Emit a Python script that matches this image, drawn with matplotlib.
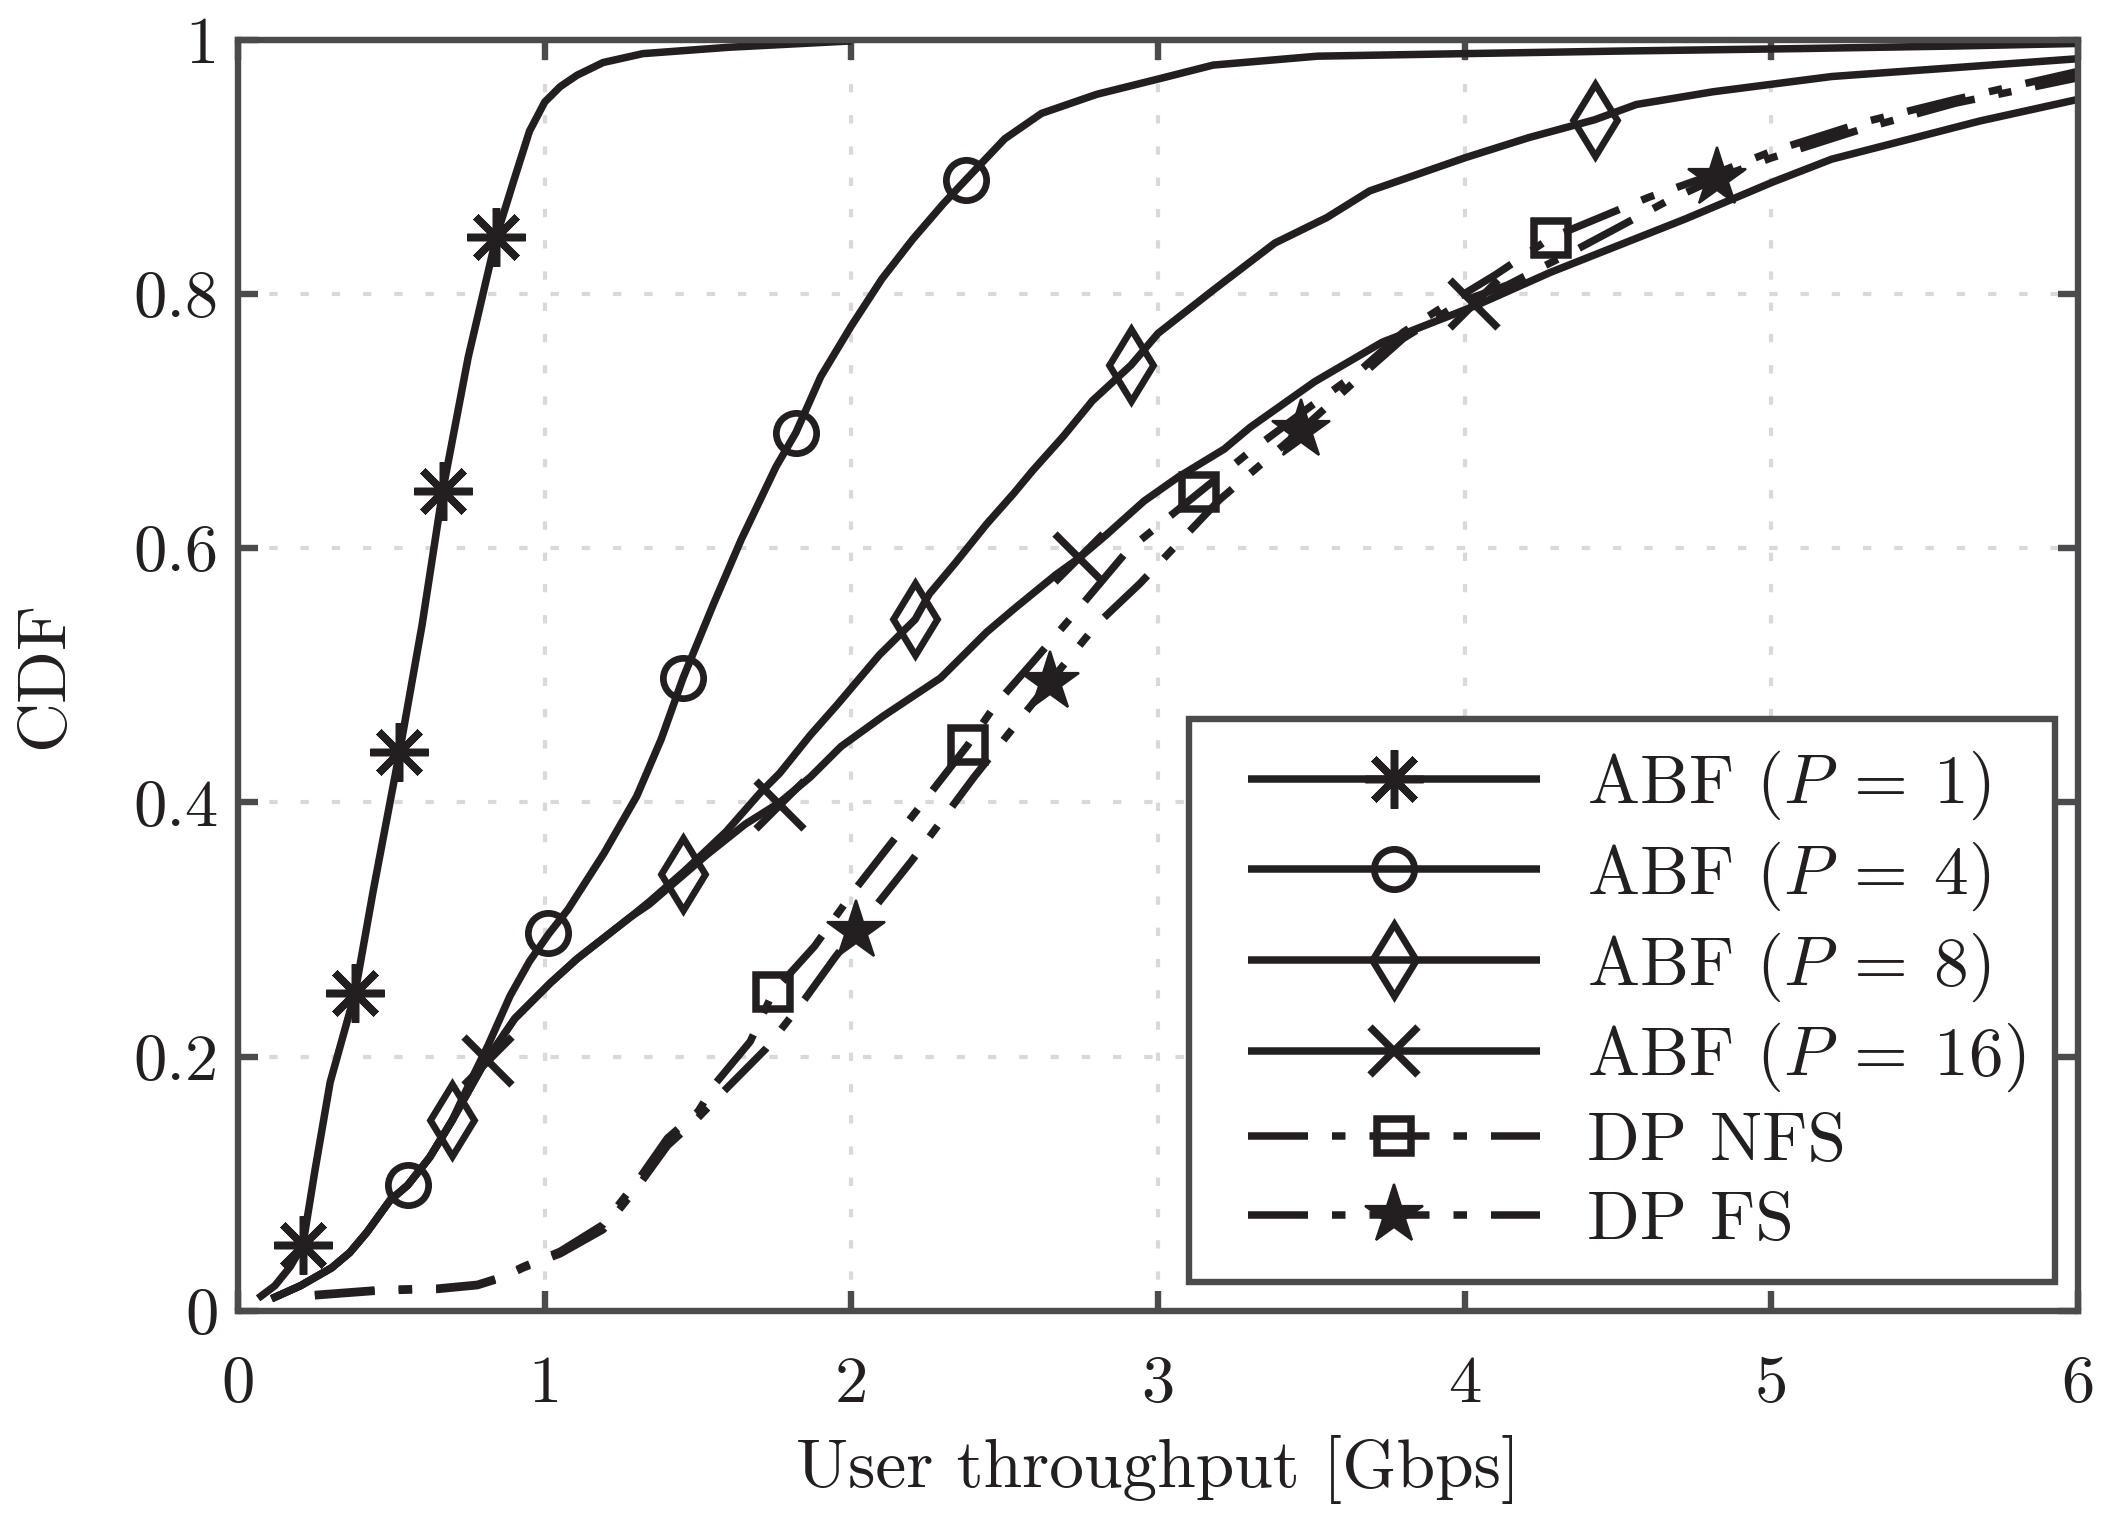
import numpy as np
import matplotlib
matplotlib.use("Agg")
import matplotlib.pyplot as plt
from matplotlib.legend_handler import HandlerTuple

plt.rcParams['font.family'] = ['cmr10', 'DejaVu Serif']
plt.rcParams['mathtext.fontset'] = 'cm'
plt.rcParams['axes.formatter.use_mathtext'] = True
plt.rcParams['axes.unicode_minus'] = False

# ---------------- data ----------------
p1_x = [0.065, 0.12, 0.17, 0.211, 0.25, 0.30, 0.381, 0.44, 0.525, 0.60, 0.667, 0.75, 0.842,
        0.90, 0.95, 1.0, 1.05, 1.105, 1.19, 1.32, 1.6, 2.0]
p1_y = [0.010, 0.020, 0.035, 0.052, 0.11, 0.18, 0.25, 0.33, 0.438, 0.54, 0.645, 0.75, 0.845,
        0.89, 0.928, 0.951, 0.963, 0.972, 0.982, 0.989, 0.994, 0.999]
p1_mx = [0.211, 0.381, 0.525, 0.667, 0.842]
p1_my = [0.052, 0.250, 0.440, 0.645, 0.845]

p4_x = [0.109, 0.204, 0.305, 0.364, 0.42, 0.495, 0.553, 0.625, 0.698, 0.756, 0.815, 0.887,
        0.95, 1.014, 1.076, 1.193, 1.30, 1.38, 1.451, 1.55, 1.641, 1.754, 1.819, 1.90, 2.0,
        2.1, 2.2, 2.3, 2.374, 2.5, 2.62, 2.8, 3.0, 3.18, 3.52, 4.0, 4.5, 5.1, 5.6, 6.0]
p4_y = [0.0097, 0.020, 0.034, 0.046, 0.062, 0.087, 0.099, 0.121, 0.150, 0.180, 0.209, 0.248,
        0.275, 0.297, 0.316, 0.360, 0.405, 0.450, 0.498, 0.556, 0.607, 0.664, 0.691, 0.735, 0.775,
        0.812, 0.843, 0.871, 0.890, 0.922, 0.942, 0.957, 0.969, 0.980, 0.987, 0.989, 0.991, 0.993,
        0.995, 0.997]
p4_mx = [0.553, 1.010, 1.451, 1.819, 2.374]
p4_my = [0.099, 0.297, 0.498, 0.691, 0.890]

p8_x = [0.109, 0.204, 0.305, 0.364, 0.42, 0.495, 0.553, 0.625, 0.698, 0.80, 0.902, 1.018,
        1.105, 1.28, 1.341, 1.455, 1.591, 1.704, 1.766, 1.866, 1.954, 2.091, 2.208, 2.254, 2.341,
        2.441, 2.529, 2.591, 2.691, 2.786, 2.912, 3.0, 3.18, 3.381, 3.55, 3.69, 4.0, 4.21, 4.424,
        4.56, 4.81, 5.197, 5.6, 6.0]
p8_y = [0.0097, 0.020, 0.034, 0.046, 0.062, 0.087, 0.099, 0.121, 0.150, 0.194, 0.230, 0.258,
        0.277, 0.310, 0.322, 0.346, 0.377, 0.408, 0.423, 0.453, 0.477, 0.516, 0.544, 0.564, 0.589,
        0.619, 0.643, 0.661, 0.688, 0.716, 0.744, 0.769, 0.803, 0.840, 0.860, 0.881, 0.907, 0.923,
        0.937, 0.949, 0.959, 0.971, 0.978, 0.985]
p8_mx = [0.698, 1.451, 2.208, 2.912, 4.424]
p8_my = [0.150, 0.344, 0.544, 0.744, 0.937]

p16_x = [0.109, 0.204, 0.305, 0.364, 0.42, 0.495, 0.553, 0.625, 0.698, 0.80, 0.902, 1.018,
         1.105, 1.28, 1.341, 1.529, 1.654, 1.766, 1.866, 1.966, 2.104, 2.291, 2.441, 2.529, 2.666,
         2.741, 2.829, 2.954, 3.066, 3.216, 3.30, 3.511, 3.731, 4.038, 4.28, 4.5, 4.72, 5.005,
         5.197, 5.68, 6.0]
p16_y = [0.0097, 0.020, 0.034, 0.046, 0.062, 0.087, 0.099, 0.121, 0.150, 0.194, 0.230, 0.258,
         0.277, 0.310, 0.320, 0.359, 0.383, 0.400, 0.420, 0.444, 0.468, 0.498, 0.534, 0.552, 0.579,
         0.592, 0.610, 0.637, 0.656, 0.678, 0.695, 0.731, 0.762, 0.791, 0.817, 0.838, 0.859, 0.888,
         0.906, 0.936, 0.953]
p16_mx = [0.815, 1.766, 2.741, 4.030]
p16_my = [0.197, 0.398, 0.592, 0.792]

nfs_x = [0.25, 0.47, 0.65, 0.78, 0.86, 0.93, 1.05, 1.19, 1.31, 1.40, 1.50, 1.56, 1.67, 1.745,
         1.88, 2.01, 2.11, 2.25, 2.379, 2.47, 2.59, 2.75, 2.90, 3.135, 3.3, 3.5, 3.65, 3.8, 3.95,
         4.1, 4.28, 4.45, 4.6, 4.8, 5.0, 5.3, 5.6, 6.0]
nfs_y = [0.013, 0.017, 0.018, 0.021, 0.027, 0.035, 0.047, 0.068, 0.105, 0.136, 0.157, 0.180,
         0.212, 0.251, 0.287, 0.331, 0.362, 0.405, 0.445, 0.477, 0.510, 0.555, 0.598, 0.644, 0.676,
         0.712, 0.738, 0.770, 0.793, 0.815, 0.844, 0.861, 0.876, 0.893, 0.912, 0.935, 0.953, 0.975]
nfs_mx = [1.745, 2.379, 3.135, 4.280]
nfs_my = [0.251, 0.445, 0.644, 0.844]

fs_x = [0.25, 0.47, 0.65, 0.78, 0.86, 0.93, 1.05, 1.19, 1.31, 1.40, 1.50, 1.58, 1.72, 1.847,
        1.949, 2.015, 2.196, 2.40, 2.6475, 2.80, 2.94, 3.2, 3.467, 3.65, 3.8, 4.0, 4.14, 4.26,
        4.35, 4.49, 4.66, 4.824, 5.0, 5.3, 5.6, 6.0]
fs_y = [0.012, 0.016, 0.017, 0.020, 0.026, 0.034, 0.045, 0.064, 0.100, 0.130, 0.152, 0.172,
        0.206, 0.245, 0.279, 0.299, 0.354, 0.420, 0.495, 0.540, 0.572, 0.638, 0.693, 0.733, 0.765,
        0.795, 0.807, 0.822, 0.833, 0.851, 0.873, 0.891, 0.907, 0.930, 0.950, 0.970]
fs_mx = [2.015, 2.6475, 3.467, 4.824]
fs_my = [0.299, 0.495, 0.693, 0.891]

labels = [r'ABF $(P\:=\:1)\,$', r'ABF $(P\:=\:4)\,$', r'ABF $(P\:=\:8)\,$',
          r'ABF $(P\:=\:16)\,$', 'DP NFS', 'DP FS']
x_ticks = [0, 1, 2, 3, 4, 5, 6]
y_ticks = [0, 0.2, 0.4, 0.6, 0.8, 1]
y_tick_labels = ['0', '0.2', '0.4', '0.6', '0.8', '1']

# ---------------- style ----------------
INK = '#231f20'
SPINE = '#4b4b4d'
LW = 2.7
dashdot = (0, (8, 3.2, 1.8, 3.2))


class ShiftedTuple(HandlerTuple):
    """Tuple handler whose handle starts a little to the right."""
    def __init__(self, shift_em=0.4, **kw):
        super().__init__(**kw)
        self.shift_em = shift_em

    def create_artists(self, legend, orig_handle, xdescent, ydescent, width, height,
                       fontsize, trans):
        s = self.shift_em * fontsize
        return super().create_artists(legend, orig_handle, xdescent - s, ydescent,
                                      width - s, height, fontsize, trans)


fig = plt.figure(figsize=(10.52, 7.595), dpi=200)
ax = fig.add_axes([0.1132, 0.1369, 0.9876 - 0.1132, 0.9739 - 0.1369])

series = [
    (p1_x, p1_y, p1_mx, p1_my, '-', dict(marker=(8, 2, 0), markersize=21, mew=LW,
                                         mec=INK, mfc='none')),
    (p4_x, p4_y, p4_mx, p4_my, '-', dict(marker='o', markersize=14.5, mew=LW * 0.9,
                                         mec=INK, mfc='none')),
    (p8_x, p8_y, p8_mx, p8_my, '-', dict(marker='d', markersize=18.5, mew=LW * 0.9,
                                         mec=INK, mfc='none')),
    (p16_x, p16_y, p16_mx, p16_my, '-', dict(marker='x', markersize=17, mew=LW,
                                             mec=INK, mfc='none')),
    (nfs_x, nfs_y, nfs_mx, nfs_my, dashdot, dict(marker='s', markersize=12, mew=LW,
                                                 mec=INK, mfc='none')),
    (fs_x, fs_y, fs_mx, fs_my, dashdot, dict(marker='*', markersize=22, mew=0.8,
                                             mec=INK, mfc=INK)),
]

handles = []
for (xs, ys, mxs, mys, ls, mk) in series:
    ln, = ax.plot(xs, ys, linestyle=ls, color=INK, lw=LW, solid_capstyle='butt',
                  dash_capstyle='butt', zorder=3)
    mk_ln, = ax.plot(mxs, mys, linestyle='none', zorder=4, **mk)
    handles.append((ln, mk_ln))

ax.set_xlim(0, 6)
ax.set_ylim(0, 1)
ax.set_xticks(x_ticks)
ax.set_xticklabels([str(t) for t in x_ticks])
ax.set_yticks(y_ticks)
ax.set_yticklabels(y_tick_labels)

ax.grid(True, color='#d9d9d9', linestyle=(0, (2, 5.5)), linewidth=1.5, dash_capstyle='butt')
ax.set_axisbelow(True)

for s in ax.spines.values():
    s.set_color(SPINE)
    s.set_linewidth(2.3)
    s.set_zorder(5)

ax.tick_params(axis='both', which='major', direction='in', length=7.2, width=2.3,
               color=SPINE, labelcolor=INK, labelsize=24, top=True, right=True)
ax.tick_params(axis='x', pad=16)
ax.tick_params(axis='y', pad=7)

ax.set_xlabel('User throughput [Gbps]', fontsize=25, color=INK, labelpad=7)
ax.set_ylabel('CDF', fontsize=25, color=INK, labelpad=21)

leg = ax.legend(handles, labels, handler_map={tuple: ShiftedTuple(shift_em=0.42, ndivide=1)},
                loc='lower right', bbox_to_anchor=(0.9767, 0.156),
                bbox_transform=fig.transFigure, fontsize=25, frameon=True,
                fancybox=False, framealpha=1.0, edgecolor=SPINE, borderpad=0.43,
                handlelength=4.62, handletextpad=0.68, labelspacing=0.25, borderaxespad=0)
leg.get_frame().set_linewidth(2.3)
for t in leg.get_texts():
    t.set_color(INK)
leg.set_zorder(6)

fig.savefig('out.png', dpi=200)
